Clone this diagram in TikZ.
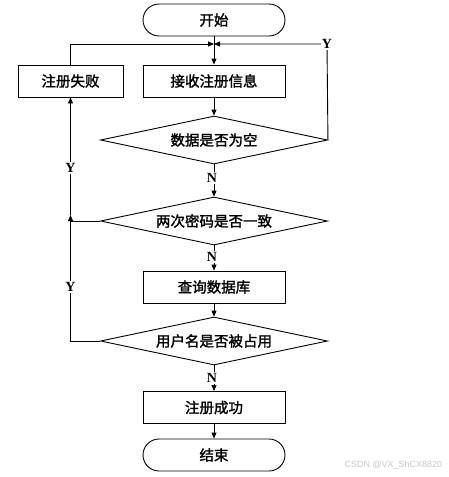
\documentclass[tikz,border=0pt]{standalone}
\usepackage{fontspec}
\setmainfont{Liberation Serif}
\newfontfamily\cjk[FakeBold=1.6]{Noto Sans CJK SC}
\newfontfamily\wm{Liberation Sans}
\usetikzlibrary{arrows.meta,shapes.geometric}
\begin{document}
\begin{tikzpicture}[x=1pt,y=-1pt,
  line width=0.9pt,
  arr/.style={-{Triangle[length=6pt,width=5pt]}},
  term/.style={draw,rounded corners=16pt,minimum width=142pt,minimum height=32pt,inner sep=0pt,font=\cjk\fontsize{14.5}{16}\selectfont},
  proc/.style={draw,minimum width=142pt,minimum height=32pt,inner sep=0pt,font=\cjk\fontsize{14.5}{16}\selectfont},
  dec/.style={draw,diamond,aspect=4.7,minimum width=227pt,minimum height=48pt,inner sep=0pt,font=\cjk\fontsize{14.5}{16}\selectfont},
  lab/.style={fill=white,inner sep=1pt,font=\bfseries\fontsize{14}{15}\selectfont}]
\useasboundingbox (0,0) rectangle (449,477);
\node[term] (start) at (214,20) {开始};
\node[proc] (recv) at (214,81) {接收注册信息};
\node[proc] (fail) at (70.5,81) [minimum width=105pt] {注册失败};
\node[dec] (d1) at (214,140) {数据是否为空};
\node[dec] (d2) at (214,221) {两次密码是否一致};
\node[proc] (query) at (214,287) {查询数据库};
\node[dec] (d3) at (214,341) {用户名是否被占用};
\node[proc] (ok) at (214,407.5) {注册成功};
\node[term] (end) at (214,455) {结束};
\coordinate (J) at (214,44);
\coordinate (R) at (327,44);
\coordinate (L2) at (70.5,215);
% main flow
\draw[arr] (start) -- (recv);
\draw[arr] (recv) -- (d1);
\draw[arr] (d1) -- (d2);
\draw[arr] (d2) -- (query);
\draw[arr] (query) -- (d3);
\draw[arr] (d3) -- (ok);
\draw[arr] (ok) -- (end);
% loops
\draw[arr] (fail.north) |- (J);
\draw[arr] (d1.east) -- (R) -- (J);
\draw (d2.west) -- (d2.west -| L2);
\draw[arr] (d3.west) -| (L2);
\draw[arr] (L2) -- (fail.south);
% labels
\node[lab] at (R) {Y};
\node[lab] at (212,178) {N};
\node[lab] at (212,257) {N};
\node[lab] at (212,378) {N};
\node[lab] at (70.5,168) {Y};
\node[lab] at (70.5,287) {Y};
\node[text=black!22,font=\wm\fontsize{9}{10}\selectfont,anchor=east] at (446,465) {CSDN @VX\_ShCX8820};
\end{tikzpicture}
\end{document}
